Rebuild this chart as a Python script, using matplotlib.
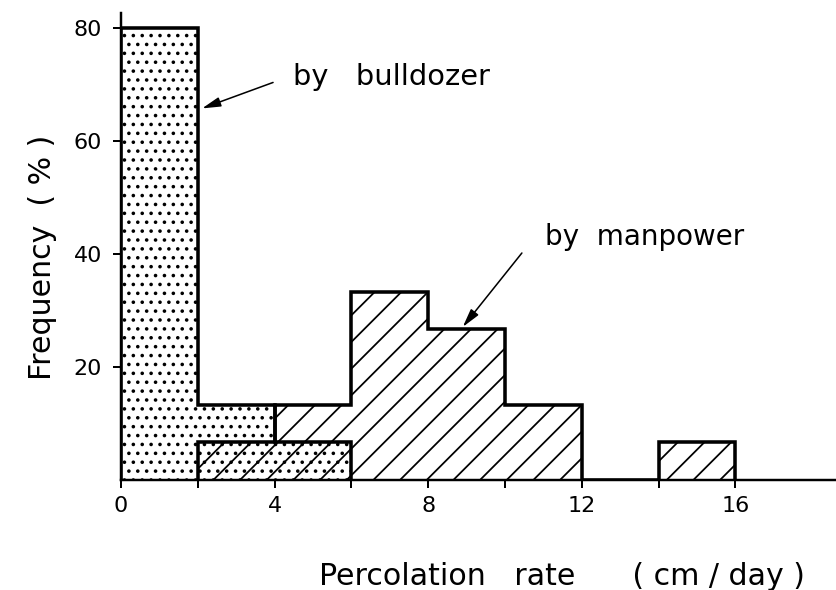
import numpy as np
import matplotlib
matplotlib.use("Agg")
import matplotlib.pyplot as plt

# histogram data (frequency %, bins of 2 cm/day)
bulldozer_edges = [0, 2, 4, 6]
bulldozer_freq = [80.0, 13.3, 6.7]
manpower_edges = [2, 4, 6, 8, 10, 12, 14, 16]
manpower_freq = [6.7, 13.3, 33.3, 26.7, 13.3, 0.0, 6.7]

x_major = [0, 4, 8, 12, 16]
x_minor = [2, 6, 10, 14]
y_ticks = [20, 40, 60, 80]

plt.rcParams['hatch.linewidth'] = 0.8
plt.rcParams['font.family'] = 'DejaVu Sans'

DPI = 160
fig = plt.figure(figsize=(836 / DPI, 590 / DPI), dpi=DPI)
ax = fig.add_axes([121 / 836, 110 / 590, 715 / 836, 467 / 590])

# bulldozer: dotted, manpower: diagonal hatch drawn over it
ax.stairs(bulldozer_freq, bulldozer_edges, fill=True, facecolor='white',
          edgecolor='black', hatch='...', linewidth=1.6, zorder=2)
ax.stairs(manpower_freq, manpower_edges, fill=True, facecolor='none',
          edgecolor='black', hatch='//', linewidth=1.6, zorder=3)

ax.set_xlim(0, 18.62)
ax.set_ylim(0, 82.7)

for s in ['top', 'right']:
    ax.spines[s].set_visible(False)
for s in ['left', 'bottom']:
    ax.spines[s].set_linewidth(1.1)
    ax.spines[s].set_zorder(4)

ax.set_xticks(x_major)
ax.set_xticks(x_minor, minor=True)
ax.set_yticks(y_ticks)
ax.tick_params(axis='both', which='both', direction='out', length=3.6,
               width=0.9, labelsize=10)
ax.tick_params(axis='x', pad=3.5)
ax.tick_params(axis='y', pad=5)

ax.set_xlabel('Percolation   rate      ( cm / day )', fontsize=13.5, va='baseline')
ax.xaxis.set_label_coords(0.616, -0.2248)
ax.set_ylabel('Frequency  ( % )', fontsize=13.5)
ax.yaxis.set_label_coords(-0.0895, 0.4775)

arrow = dict(arrowstyle='-|>,head_length=0.7,head_width=0.18',
             color='black', lw=0.7, shrinkA=0, shrinkB=0)
ax.annotate('', xy=(2.11, 65.8), xytext=(3.96, 70.4), arrowprops=arrow)
ax.text(4.48, 69.9, 'by   bulldozer', fontsize=13, va='baseline', ha='left')
ax.annotate('', xy=(8.9, 27.1), xytext=(10.44, 40.2), arrowprops=arrow)
ax.text(11.03, 41.6, 'by  manpower', fontsize=12.5, va='baseline', ha='left')

fig.savefig('out.png', dpi=DPI)
